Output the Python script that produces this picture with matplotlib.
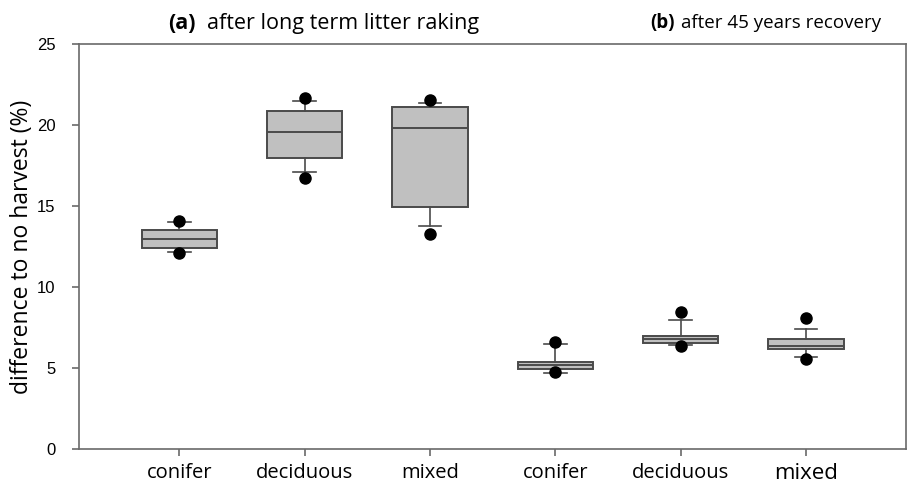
import numpy as np
import matplotlib

matplotlib.use("Agg")
import matplotlib.pyplot as plt

labels = ["conifer", "deciduous", "mixed", "conifer", "deciduous", "mixed"]
q1 = [12.4, 18.0, 14.95, 4.95, 6.55, 6.15]
med = [13.0, 19.6, 19.8, 5.2, 6.8, 6.35]
q3 = [13.5, 20.85, 21.1, 5.4, 7.0, 6.8]
whislo = [12.2, 17.1, 13.8, 4.7, 6.4, 5.7]
whishi = [14.0, 21.5, 21.4, 6.5, 8.0, 7.4]
out_low = [12.1, 16.75, 13.3, 4.75, 6.35, 5.55]
out_high = [14.1, 21.7, 21.55, 6.6, 8.45, 8.1]

edge = "#4a4a4a"
spine = "#6a6a6a"

stats = []
for i in range(len(labels)):
    stats.append(dict(q1=q1[i], med=med[i], q3=q3[i], whislo=whislo[i], whishi=whishi[i],
                      fliers=np.array([out_low[i], out_high[i]]), label=labels[i]))

fig = plt.figure(figsize=(9.08, 4.86), dpi=100)
ax = fig.add_axes([0.087, 0.076, 0.911, 0.833])

positions = np.arange(1, len(labels) + 1)
ax.bxp(stats, positions=positions, widths=0.6, capwidths=0.18, patch_artist=True,
       boxprops=dict(facecolor="#c0c0c0", edgecolor=edge, linewidth=1.4),
       medianprops=dict(color=edge, linewidth=1.4),
       whiskerprops=dict(color=edge, linewidth=1.2),
       capprops=dict(color=edge, linewidth=1.2),
       flierprops=dict(marker="o", markerfacecolor="black", markeredgecolor="black",
                       markersize=8, linestyle="none"))

ax.set_xlim(0.2, 6.8)
ax.set_ylim(0, 25)
ax.set_yticks([0, 5, 10, 15, 20, 25])
ax.set_xticks(positions)
ax.set_xticklabels(labels, family="Open Sans", fontsize=14.5)
for t in ax.get_yticklabels():
    t.set_family("Liberation Sans")
    t.set_fontsize(12)
ax.get_xticklabels()[-1].set_fontsize(16)
ax.set_ylabel("difference to no harvest (%)", family="Open Sans", fontsize=16.5, labelpad=2)

for s in ax.spines.values():
    s.set_color(spine)
    s.set_linewidth(1.2)
ax.tick_params(axis="both", colors=spine, length=5, width=1.2, labelcolor="black")
ax.tick_params(axis="x", pad=5)
ax.tick_params(axis="y", pad=12)

ty = 0.952
fig.text(0.185, ty, "(a)", family="Open Sans", fontweight="bold", fontsize=15.5, va="center")
fig.text(0.228, ty, "after long term litter raking", family="Open Sans", fontsize=15.5, va="center")
fig.text(0.716, ty, "(b)", family="Open Sans", fontweight="bold", fontsize=13.5, va="center")
fig.text(0.750, ty, "after 45 years recovery", family="Open Sans", fontsize=13.5, va="center")

fig.savefig("out.png", dpi=100)
